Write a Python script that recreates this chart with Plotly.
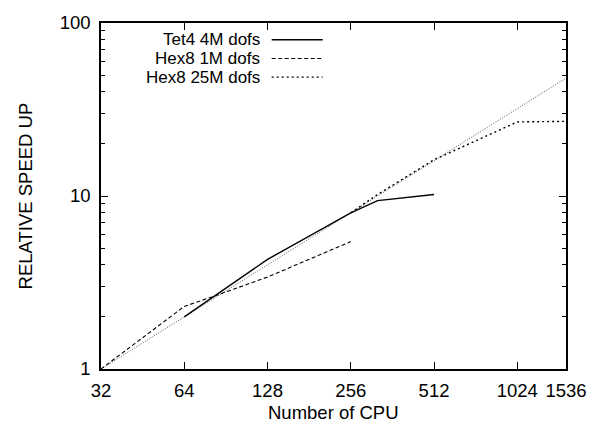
import plotly.graph_objects as go

# ---- data ----
cpu_tet4 = [64, 128, 256, 320, 512]
speed_tet4 = [2.0, 4.3, 8.0, 9.4, 10.2]

cpu_hex1m = [32, 64, 80, 128, 256]
speed_hex1m = [1.0, 2.3, 2.6, 3.4, 5.45]

cpu_hex25m = [256, 320, 512, 1024, 1536]
speed_hex25m = [8.0, 10.2, 16.2, 26.8, 27.0]

cpu_ideal = [32, 1536]
speed_ideal = [1.0, 48.0]

series_names = ["Tet4 4M dofs", "Hex8 1M dofs", "Hex8 25M dofs"]
series_dash = ["solid", "4px,2.5px", "2px,3px"]
series_width = [1.4, 1.1, 1.4]

x_ticks = [32, 64, 128, 256, 512, 1024, 1536]
y_ticks = [1, 10, 100]
y_minor_ticks = [2, 3, 4, 5, 6, 7, 8, 9, 20, 30, 40, 50, 60, 70, 80, 90]

FONT = "Liberation Sans, Arial, sans-serif"
FS = 18.5
FS_LEG = 17

fig = go.Figure()

# ideal (not in legend)
fig.add_trace(go.Scatter(x=cpu_ideal, y=speed_ideal, mode="lines",
                         line=dict(color="#555555", width=1, dash="1px,1.6px"),
                         showlegend=False, hoverinfo="skip"))

xs = [cpu_tet4, cpu_hex1m, cpu_hex25m]
ys = [speed_tet4, speed_hex1m, speed_hex25m]
for x, y, n, d, w in zip(xs, ys, series_names, series_dash, series_width):
    fig.add_trace(go.Scatter(x=x, y=y, mode="lines", name=n,
                             line=dict(color="black", width=w, dash=d),
                             showlegend=False))

# invisible trace on overlay axis for minor ticks
fig.add_trace(go.Scatter(x=[cpu_ideal[0]], y=[speed_ideal[0]], yaxis="y2",
                         mode="markers", marker=dict(opacity=0),
                         showlegend=False, hoverinfo="skip"))

# manual legend (text left, sample right) in paper coords
L, R, T, B = 101, 575, 18, 369.3
W, H = R - L, B - T
legend_rows = [35.0, 54.0, 73.0]
text_right = 264
samp_x0, samp_x1 = 275, 327
for n, d, w, yy in zip(series_names, series_dash, series_width, legend_rows):
    py = (B - yy) / H
    fig.add_annotation(x=(text_right - L) / W, y=py, xref="paper", yref="paper",
                       text=n, showarrow=False, xanchor="right", yanchor="middle",
                       height=17, borderpad=0, valign="middle",
                       font=dict(family=FONT, size=FS_LEG, color="black"))
    fig.add_shape(type="line", xref="paper", yref="paper",
                  x0=(samp_x0 - L) / W, x1=(samp_x1 - L) / W, y0=py, y1=py,
                  line=dict(color="black", width=w, dash=d))

# axis titles
fig.add_annotation(x=0.5, y=(B - 413) / H, xref="paper", yref="paper",
                   text="Number of CPU", showarrow=False,
                   xanchor="center", yanchor="middle",
                   font=dict(family=FONT, size=FS, color="black"))
fig.add_annotation(x=(24 - L) / W, y=0.5, xref="paper", yref="paper",
                   text="RELATIVE SPEED UP", showarrow=False, textangle=-90,
                   xanchor="center", yanchor="middle",
                   font=dict(family=FONT, size=FS, color="black"))

fig.update_layout(
    xaxis=dict(type="log", range=[1.50515, 3.18639],
               tickvals=x_ticks, ticktext=[str(v) for v in x_ticks],
               ticks="inside", ticklen=7, tickwidth=1, tickcolor="black",
               ticklabelstandoff=4,
               showline=True, linecolor="black", linewidth=1.5, mirror="ticks",
               showgrid=False, zeroline=False,
               tickfont=dict(family=FONT, size=FS, color="black")),
    yaxis=dict(type="log", range=[0, 2],
               tickvals=y_ticks, ticktext=[str(v) for v in y_ticks],
               ticks="inside", ticklen=7, tickwidth=1, tickcolor="black",
               ticklabelstandoff=5,
               showline=True, linecolor="black", linewidth=1.5, mirror="ticks",
               showgrid=False, zeroline=False,
               tickfont=dict(family=FONT, size=FS, color="black")),
    yaxis2=dict(type="log", range=[0, 2], overlaying="y", side="left",
                tickvals=y_minor_ticks, ticktext=["" for _ in y_minor_ticks],
                ticks="inside", ticklen=4, tickwidth=1, tickcolor="black",
                showline=False, mirror="ticks", showgrid=False, zeroline=False),
    width=599, height=423,
    margin=dict(l=101, r=24, t=18, b=54, pad=0),
    paper_bgcolor="white", plot_bgcolor="white",
    showlegend=False)

fig.write_html("out.html")
